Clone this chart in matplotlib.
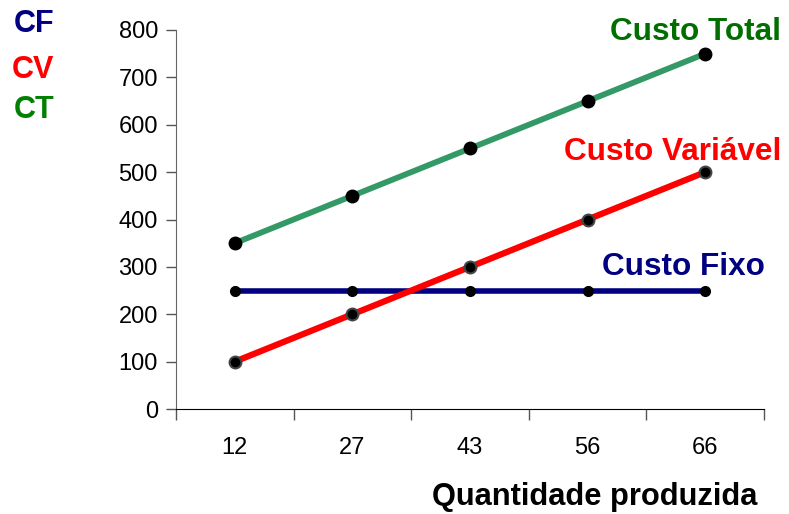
import matplotlib
matplotlib.use("Agg")
import matplotlib.pyplot as plt
from matplotlib.ticker import FixedLocator, NullFormatter

plt.rcParams['font.family'] = ['Liberation Sans', 'DejaVu Sans']

quantidades = ["12", "27", "43", "56", "66"]
custo_fixo = [250, 250, 250, 250, 250]
custo_variavel = [100, 200, 300, 400, 500]
custo_total = [350, 450, 550, 650, 750]
y_ticks = [0, 100, 200, 300, 400, 500, 600, 700, 800]

W, H = 789, 514
fig = plt.figure(figsize=(W / 100, H / 100), dpi=100)
ax = fig.add_axes([176 / W, 105 / H, (764 - 176) / W, (409 - 30) / H])

x = list(range(len(quantidades)))

ax.plot(x, custo_total, color="#339966", lw=4.2, marker="o", ms=9,
        mfc="black", mec="black", zorder=3, solid_capstyle="butt")
ax.plot(x, custo_variavel, color="#ff0000", lw=4.5, marker="o", ms=8.5,
        mfc="black", mec="#444444", mew=1.5, zorder=4, solid_capstyle="butt")
ax.plot(x, custo_fixo, color="#000080", lw=4.0, marker="o", ms=7,
        mfc="black", mec="black", zorder=3, solid_capstyle="butt")

ax.set_xlim(-0.5, len(quantidades) - 0.5)
ax.set_ylim(0, 800)

ax.set_yticks(y_ticks)
ax.tick_params(axis="y", labelsize=17, length=7, width=1, direction="out",
               color="#555555", pad=6)

ax.set_xticks(x)
ax.set_xticklabels(quantidades)
ax.xaxis.set_minor_locator(FixedLocator([i - 0.5 for i in range(len(quantidades) + 1)]))
ax.xaxis.set_minor_formatter(NullFormatter())
ax.tick_params(axis="x", which="major", length=0, labelsize=17, pad=20)
ax.tick_params(axis="x", which="minor", length=8, width=1, direction="out", color="#555555")

for side in ("top", "right"):
    ax.spines[side].set_visible(False)
ax.spines["left"].set_color("#666666")
ax.spines["bottom"].set_color("black")

fig.text(757 / W, 1 - 497 / H, "Quantidade produzida", ha="right", va="center",
         fontsize=22.2, fontweight="bold", color="black")

fig.text(781 / W, 1 - 32 / H, "Custo Total", ha="right", va="center",
         fontsize=22.7, fontweight="bold", color="#006f00")
fig.text(781 / W, 1 - 152 / H, "Custo Variável", ha="right", va="center",
         fontsize=22.7, fontweight="bold", color="#ff0000")
fig.text(765 / W, 1 - 267 / H, "Custo Fixo", ha="right", va="center",
         fontsize=22.7, fontweight="bold", color="#000080")

fig.text(14 / W, 1 - 24 / H, "CF", ha="left", va="center",
         fontsize=22, fontweight="bold", color="#000080")
fig.text(12 / W, 1 - 70 / H, "CV", ha="left", va="center",
         fontsize=22, fontweight="bold", color="#ff0000")
fig.text(14 / W, 1 - 110 / H, "CT", ha="left", va="center",
         fontsize=22, fontweight="bold", color="#008000")

fig.savefig("out.png", dpi=100)
